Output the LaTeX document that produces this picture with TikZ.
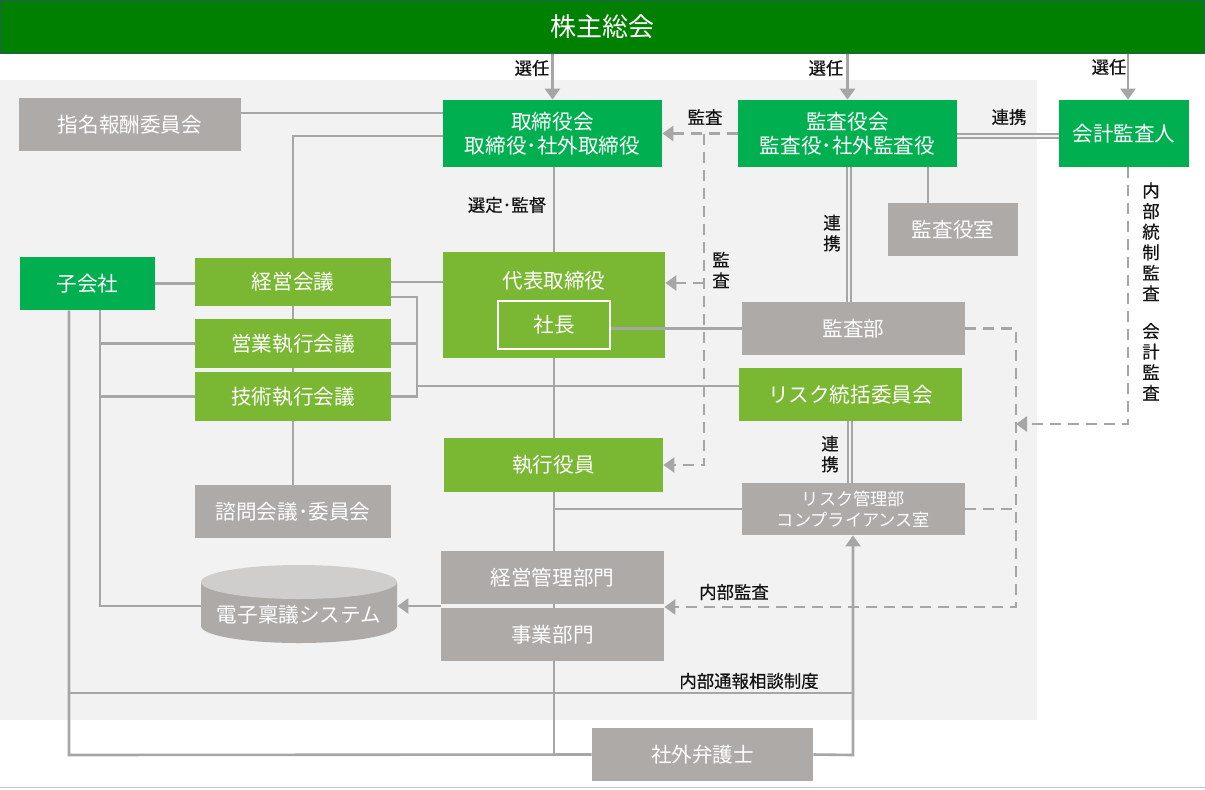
\documentclass[tikz,border=0pt]{standalone}
\usepackage{fontspec}
\setmainfont{Noto Sans CJK JP}
\newfontfamily\notefont[FakeBold=0.5]{Noto Sans CJK JP}
\usetikzlibrary{arrows.meta,calc}

\definecolor{bannergreen}{RGB}{0,128,0}
\definecolor{boardgreen}{RGB}{0,176,80}
\definecolor{execgreen}{RGB}{122,184,51}
\definecolor{deptgray}{RGB}{173,170,168}
\definecolor{cyltop}{RGB}{207,206,205}
\definecolor{linegray}{RGB}{166,166,166}
\definecolor{panelgray}{RGB}{242,242,242}
\definecolor{labelblack}{RGB}{20,20,20}

\tikzset{
  org/.style={inner sep=0pt, align=center, text=white, font=\fontsize{10.3}{12}\selectfont},
  sz/.style 2 args={minimum width=#1*0.5pt, minimum height=#2*0.5pt},
  greenbox/.style={org, fill=boardgreen},
  limebox/.style={org, fill=execgreen},
  graybox/.style={org, fill=deptgray},
  note/.style={inner sep=0pt, align=center, text=labelblack, font=\notefont\fontsize{8.7}{10.3}\selectfont},
  link/.style={draw=linegray, line width=1.3pt},
  audit/.style={draw=linegray, line width=1.3pt, dash pattern=on 5.5pt off 3.5pt},
  pair/.style={draw=linegray, line width=1pt, double=panelgray, double distance=1pt},
  toarrow/.style={-{Triangle[width=7.5pt,length=5.5pt]}}
}

\begin{document}
\begin{tikzpicture}[x=0.5pt, y=-0.5pt]
  \useasboundingbox (0,0) rectangle (1205,789);

  % background panel and bottom rule
  \fill[panelgray] (0,80) rectangle (1037,720);
  \draw[line width=0.6pt, black!22] (0,787.5) -- (1205,787.5);

  % shareholders meeting
  \node[org, fill=bannergreen, draw={rgb,255:red,35;green,95;blue,80}, line width=0.6pt,
        font=\fontsize{13}{15}\selectfont, sz={1204}{53}] (share) at (602.5,27) {株主総会};

  % governing bodies
  \node[graybox, sz={222}{53}] (nomination) at (130,124.5) {指名報酬委員会};
  \node[greenbox, sz={219}{67}] (board) at (552.5,133.5) {取締役会\\取締役･社外取締役};
  \node[greenbox, sz={219}{67}] (auditboard) at (847.5,133.5) {監査役会\\監査役･社外監査役};
  \node[greenbox, sz={130}{67}] (accountant) at (1124,133.5) {会計監査人};
  \node[graybox, sz={130}{53}] (auditoffice) at (953,229.5) {監査役室};

  % meetings on the left
  \node[greenbox, sz={135}{53}] (subsidiary) at (87.5,283.5) {子会社};
  \node[limebox, sz={196}{48}] (mgmtmtg) at (293,282) {経営会議};
  \node[limebox, sz={196}{49}] (salesmtg) at (293,343.5) {営業執行会議};
  \node[limebox, sz={196}{49}] (techmtg) at (293,396.5) {技術執行会議};
  \node[graybox, sz={196}{53}] (advisory) at (293,511.5) {諮問会議･委員会};

  % executive line
  \node[limebox, sz={222}{106}] (rep) at (554,305) {};
  \node[org] (reptext) at (554,281) {代表取締役};
  \node[limebox, draw=white, line width=1pt, sz={112}{48}] (president) at (554,325) {社長};
  \node[limebox, sz={219}{54}] (officers) at (553.5,465) {執行役員};
  \node[graybox, sz={223}{53}] (admin) at (552.5,577.5) {経営管理部門};
  \node[graybox, sz={223}{53}] (business) at (552.5,634.5) {事業部門};

  % audit and risk
  \node[graybox, sz={223}{53}] (internalaudit) at (853.5,328.5) {監査部};
  \node[limebox, sz={223}{53}] (riskcommittee) at (850.5,394.5) {リスク統括委員会};
  \node[graybox, sz={223}{52}, font=\fontsize{8.6}{10.5}\selectfont] (riskdept) at (853.5,509)
       {リスク管理部\\コンプライアンス室};
  \node[graybox, sz={221}{53}] (lawyer) at (702.5,754.5) {社外弁護士};

  % approval system (cylinder)
  \fill[deptgray] (201,582) -- (201,626) arc[start angle=180, end angle=0, x radius=98, y radius=17] -- (397,582) -- cycle;
  \fill[cyltop] (299,582) ellipse [x radius=98, y radius=17];
  \node[sz={196}{40}, inner sep=0pt] (denshi) at (299,606) {};
  \node[org] (denshitext) at (299,615) {電子稟議システム};

  % election
  \draw[link, toarrow] (share.south -| board.north) -- (board.north);
  \draw[link, toarrow] (share.south -| auditboard.north) -- (auditboard.north);
  \draw[link, toarrow] (share.south -| 1128,0) -- (accountant.north -| 1128,0);

  % board links
  \draw[link] (nomination.east |- 0,113) -- (board.west |- 0,113);
  \draw[link] (mgmtmtg.north) |- (board.west |- 0,136);
  \draw[link] (board.south -| rep.north) -- (rep.north);

  % audit by the auditors
  \coordinate (auditbus) at (704,133.5);
  \draw[audit, toarrow] (auditboard.west) -- (board.east);
  \draw[audit, toarrow] (auditbus) |- (officers.east);
  \draw[audit, toarrow] (auditbus |- 0,283) -- (rep.east |- 0,283);
  \draw[pair] (auditboard.east |- 0,136) -- (accountant.west |- 0,136);
  \draw[pair] (auditboard.south -| 849,0) -- (internalaudit.north -| 849,0);
  \draw[link] (auditboard.south -| 928,0) -- (auditoffice.north -| 928,0);

  % meetings
  \draw[link] (subsidiary.east) -- (subsidiary.east -| mgmtmtg.west);
  \draw[link] (mgmtmtg.east) -- (mgmtmtg.east -| rep.west);
  \draw[link] (mgmtmtg.south) -- (salesmtg.north);
  \draw[link] (salesmtg.south) -- (techmtg.north);
  \draw[link] (techmtg.south) -- (advisory.north);
  \coordinate (meetbus) at (417,386);
  \draw[link] (mgmtmtg.east |- 0,297) -| (meetbus |- techmtg.east) -- (techmtg.east);
  \draw[link] (salesmtg.east) -- (salesmtg.east -| meetbus);
  \draw[link] (meetbus) -- (riskcommittee.west |- meetbus);

  % executive spine
  \draw[link] (rep.south) -- (rep.south |- officers.north);
  \draw[link] (rep.south |- officers.south) -- (rep.south |- admin.north);
  \draw[link] (rep.south |- admin.south) -- (rep.south |- business.north);
  \draw[link] (rep.south |- riskdept.west) -- (riskdept.west);
  \draw[link] (president.east |- internalaudit.west) -- (internalaudit.west);
  \draw[pair] (riskcommittee.south -| 850,0) -- (riskdept.north -| 850,0);

  % internal audit loop
  \coordinate (auditloop) at (1016,607);
  \draw[audit, toarrow] (internalaudit.east) -| (auditloop) -- (auditloop -| admin.east);
  \draw[audit] (riskdept.east) -- (riskdept.east -| auditloop);
  \draw[audit, toarrow] (accountant.south -| 1128,0) |- (auditloop |- 0,424);

  % subsidiaries, approval system, whistleblowing
  \coordinate (subbus) at (100,606);
  \draw[link] (subsidiary.south -| subbus) -- (subbus) -- (denshi.west);
  \draw[link] (salesmtg.west -| subbus) -- (salesmtg.west);
  \draw[link] (techmtg.west -| subbus) -- (techmtg.west);
  \draw[link, toarrow] (admin.west |- denshi.east) -- (denshi.east);
  \coordinate (outerleft) at (69,755);
  \coordinate (outerright) at (853,755);
  \draw[link] (subsidiary.south -| outerleft) -- (outerleft) -- (lawyer.west);
  \draw[link, toarrow] (lawyer.east) -- (outerright) -- (outerright |- riskdept.south);
  \draw[link] (outerleft |- 0,693) -- (outerright |- 0,693);
  \draw[link] (rep.south |- business.south) -- (rep.south |- outerleft);

  % labels
  \node[note] (elect1) at (532,68) {選任};
  \node[note] (elect2) at (826,68) {選任};
  \node[note] (elect3) at (1109,67) {選任};
  \node[note] (supervise) at (507,205) {選定･監督};
  \node[note] (auditlbl1) at (705,117) {監査};
  \node[note] (auditlbl2) at (721,270) {監\\査};
  \node[note] (coop1) at (1009,117) {連携};
  \node[note] (coop2) at (832,233) {連\\携};
  \node[note] (coop3) at (830,454) {連\\携};
  \node[note] (intaudit) at (734,592) {内部監査};
  \node[note] (whistle) at (749,681) {内部通報相談制度};
  \node[note] (acctaudit) at (1151,291.5) {内\\部\\統\\制\\監\\査\\[8.5pt]会\\計\\監\\査};
\end{tikzpicture}
\end{document}
